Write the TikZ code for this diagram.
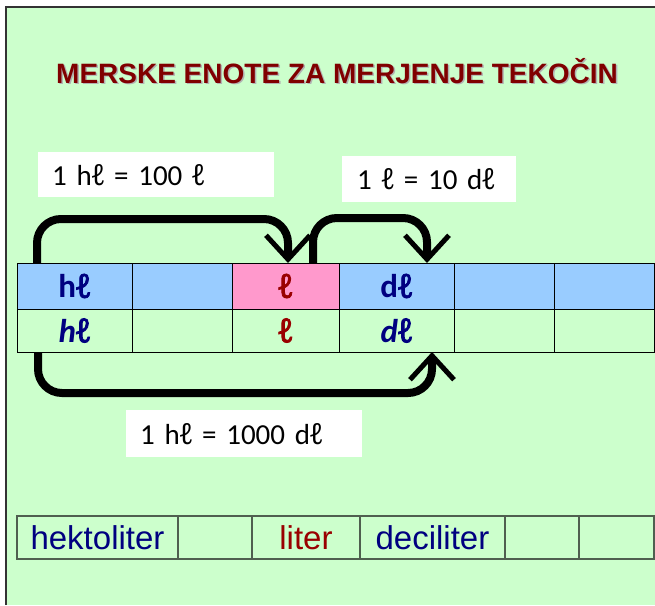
\documentclass[tikz,border=0pt]{standalone}
\usepackage{fontspec}
\setmainfont{Carlito}
\newfontfamily\arialfont{Liberation Sans}
\newfontfamily\ellfont{Noto Sans}[AutoFakeBold=2.5]
\newcommand\lit{{\ellfont\upshape\kern-0.04em ℓ\kern-0.04em}}
\usetikzlibrary{positioning,arrows.meta}
\definecolor{bggreen}{HTML}{CCFFCC}
\definecolor{cellblue}{HTML}{99CCFF}
\definecolor{cellpink}{HTML}{FF99CC}
\definecolor{unitblue}{HTML}{000080}
\definecolor{unitred}{HTML}{990000}
\definecolor{titlered}{HTML}{800000}
\definecolor{gridgray}{HTML}{4F5F4F}
\begin{document}
\begin{tikzpicture}[
       x=1pt, y=-1pt,
       topcell/.style={rectangle, draw=black, line width=0.8pt, minimum height=46pt, inner sep=0pt, outer sep=0pt, font=\bfseries\fontsize{33}{33}\selectfont},
       lowcell/.style={rectangle, draw=black, line width=0.8pt, minimum height=43pt, inner sep=0pt, outer sep=0pt, font=\bfseries\itshape\fontsize{33}{33}\selectfont},
       namecell/.style={rectangle, draw=gridgray, line width=1.2pt, minimum height=43pt, inner sep=0pt, outer sep=0pt, font=\arialfont\fontsize{33}{33}\selectfont},
       rulebox/.style={rectangle, fill=white, inner ysep=0pt, align=left, font=\fontsize{29}{29}\selectfont, anchor=north west},
       bigarrow/.style={-{Straight Barb[length=24pt, width=44pt, line width=5pt]}, line width=8pt, black, rounded corners=24pt},
       titletext/.style={font=\arialfont\bfseries\fontsize{28}{28}\selectfont, anchor=base}
   ]
   \useasboundingbox (0,0) rectangle (655,605);
   \fill[bggreen] (6,7) rectangle (655,605);
   \draw[line width=1.5pt, black!80] (6,605) -- (6,7) -- (655,7);

   % title
   \node[titletext, text=black!30] (titleshadow) at (338.5,84.5) {MERSKE ENOTE ZA MERJENJE TEKOČIN};
   \node[titletext, text=titlered] (title) at (337,83) {MERSKE ENOTE ZA MERJENJE TEKOČIN};

   % upper table
   \node[topcell, fill=cellblue, minimum width=115pt, anchor=north west] (thl) at (17,263) {\textcolor{unitblue}{h\lit}};
   \node[topcell, fill=cellblue, minimum width=100pt, right=0pt of thl] (tdal) {};
   \node[topcell, fill=cellpink, minimum width=107pt, right=0pt of tdal] (tl) {\textcolor{unitred}{\lit}};
   \node[topcell, fill=cellblue, minimum width=115pt, right=0pt of tl] (tdl) {\textcolor{unitblue}{d\lit}};
   \node[topcell, fill=cellblue, minimum width=100pt, right=0pt of tdl] (tcl) {};
   \node[topcell, fill=cellblue, minimum width=100pt, right=0pt of tcl] (tml) {};

   \node[lowcell, minimum width=115pt, below=0pt of thl] (bhl) {\textcolor{unitblue}{h\lit}};
   \node[lowcell, minimum width=100pt, below=0pt of tdal] (bdal) {};
   \node[lowcell, minimum width=107pt, below=0pt of tl] (bl) {\textcolor{unitred}{\lit}};
   \node[lowcell, minimum width=115pt, below=0pt of tdl] (bdl) {\textcolor{unitblue}{d\lit}};
   \node[lowcell, minimum width=100pt, below=0pt of tcl] (bcl) {};
   \node[lowcell, minimum width=100pt, below=0pt of tml] (bml) {};

   % rules
   \node[rulebox, text width=208pt, inner xsep=14pt, minimum height=45pt] (hltol) at (38,152) {1 h\lit{} = 100 \lit};
   \node[rulebox, text width=144pt, inner xsep=15pt, minimum height=46pt] (ltodl) at (342,156) {\mbox{1 \lit{} = 10 d\lit}};
   \node[rulebox, text width=208pt, inner xsep=14pt, minimum height=47pt] (hltodl) at (126,410) {1 h\lit{} = 1000 d\lit};

   \draw[bigarrow] ([xshift=20pt]thl.north west) -- ++(0,-44) -| ([xshift=56pt]tl.north west);
   \draw[bigarrow] ([xshift=81pt]tl.north west) -- ++(0,-45) -| ([xshift=88pt]tdl.north west);
   \draw[bigarrow] ([xshift=21pt]bhl.south west) -- ++(0,41) -| ([xshift=93pt]bdl.south west);

   % lower table
   \node[namecell, minimum width=161pt, anchor=north west] (hekto) at (17,516) {\textcolor{unitblue}{hektoliter}};
   \node[namecell, minimum width=74pt, right=0pt of hekto] (deka) {};
   \node[namecell, minimum width=108pt, right=0pt of deka] (liter) {\textcolor{unitred}{liter}};
   \node[namecell, minimum width=145pt, right=0pt of liter] (deci) {\textcolor{unitblue}{deciliter}};
   \node[namecell, minimum width=74pt, right=0pt of deci] (centi) {};
   \node[namecell, minimum width=75pt, right=0pt of centi] (mili) {};
\end{tikzpicture}
\end{document}
